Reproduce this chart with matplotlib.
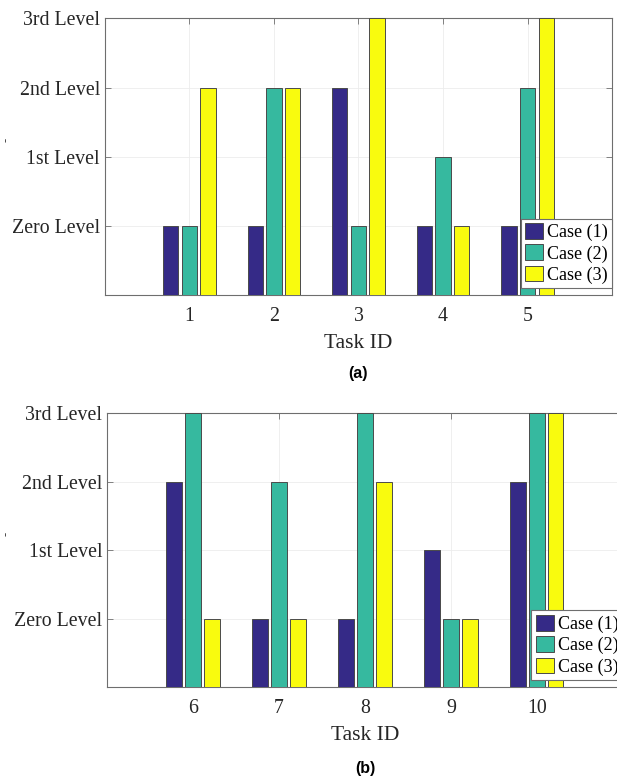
import matplotlib
matplotlib.use('Agg')
import matplotlib.pyplot as plt
import numpy as np

# level values: 1 = Zero Level, 2 = 1st, 3 = 2nd, 4 = 3rd
level_names = ['Zero Level', '1st Level', '2nd Level', '3rd Level']
case_names = ['Case (1)', 'Case (2)', 'Case (3)']
case_colors = ['#352A87', '#36B99F', '#F9FB0E']

tasks_a = [1, 2, 3, 4, 5]
case1_a = [1, 1, 3, 1, 1]
case2_a = [1, 3, 1, 2, 3]
case3_a = [3, 3, 4, 1, 4]

tasks_b = [6, 7, 8, 9, 10]
case1_b = [3, 1, 1, 2, 3]
case2_b = [4, 3, 4, 1, 4]
case3_b = [1, 1, 3, 1, 4]

plt.rcParams['font.family'] = ['Liberation Serif', 'DejaVu Serif']


def draw_panel(ax, tasks, series, tag, tag_y):
    x = np.array(tasks)
    offsets = [-0.22, 0.0, 0.22]
    for vals, off, col, name in zip(series, offsets, case_colors, case_names):
        ax.bar(x + off, vals, width=0.18, color=col, edgecolor='#4a4a4a',
               linewidth=0.7, label=name, zorder=3)
    ax.set_xlim(tasks[0] - 1, tasks[-1] + 1)
    ax.set_ylim(0, 4)
    ax.set_xticks(tasks)
    ax.set_xticklabels([str(t) for t in tasks])
    ax.set_yticks([1, 2, 3, 4])
    ax.set_yticklabels(level_names)
    ax.tick_params(direction='in', length=4, width=0.6, colors='#6e6e6e',
                   labelcolor='#262626', labelsize=14.3, top=True, right=True)
    ax.tick_params(axis='x', pad=8.5)
    ax.tick_params(axis='y', pad=3.5)
    ax.grid(True, color='#ececec', linewidth=0.6, zorder=0)
    for s in ax.spines.values():
        s.set_color('#6e6e6e')
        s.set_linewidth(0.8)
    ax.set_xlabel('Task ID', fontsize=15.5, color='#262626', labelpad=6)
    # tiny leftover y-label mark seen in the original
    ax.set_ylabel('-', fontsize=9, color='#444444')
    ax.yaxis.set_label_coords(-0.183, 0.56)
    leg = ax.legend(loc='lower right', bbox_to_anchor=(1.0, 0.025), fontsize=13,
                    frameon=True, fancybox=False, framealpha=1, edgecolor='#6e6e6e',
                    handlelength=1.0, handleheight=0.95, handletextpad=0.2,
                    labelspacing=0.18, borderpad=0.25, borderaxespad=0.0)
    leg.get_frame().set_linewidth(0.8)
    ax.text(0.5, tag_y, tag, transform=ax.transAxes, ha='center', va='center',
            fontsize=11.5, fontweight='bold', family='Liberation Sans')


fig = plt.figure(figsize=(6.17, 7.77), dpi=100)
ax1 = fig.add_axes([0.170, 0.620, 0.822, 0.3565])
ax2 = fig.add_axes([0.1734, 0.1158, 0.836, 0.3526])

draw_panel(ax1, tasks_a, [case1_a, case2_a, case3_a], '(a)', -0.283)
draw_panel(ax2, tasks_b, [case1_b, case2_b, case3_b], '(b)', -0.298)

fig.savefig('out.png', dpi=100)
